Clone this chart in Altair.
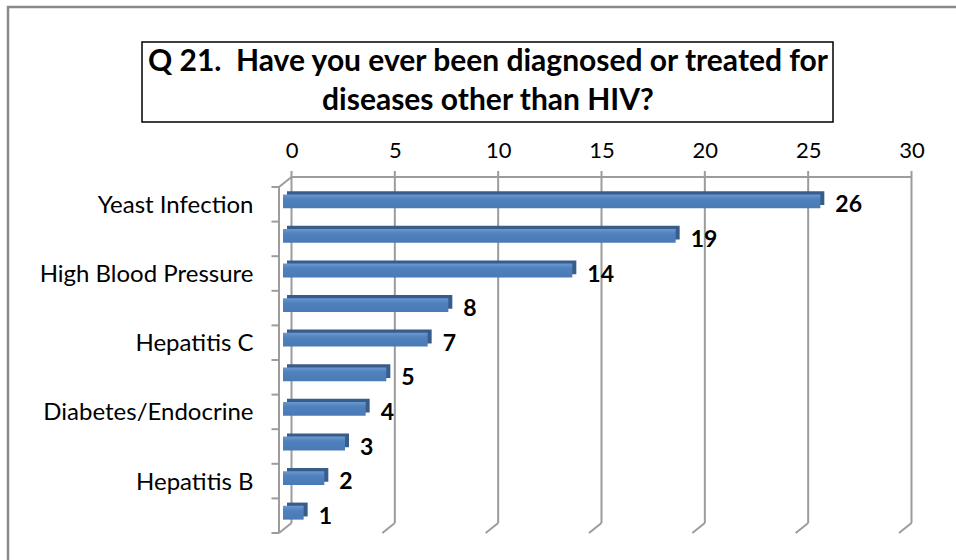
import json
import altair as alt
import pandas as pd

# Survey responses: count of people per condition (every other category is labelled)
categories = ["Yeast Infection", "", "High Blood Pressure", "", "Hepatitis C", "",
              "Diabetes/Endocrine", "", "Hepatitis B", ""]
counts = [26, 19, 14, 8, 7, 5, 4, 3, 2, 1]
tick_values = [0, 5, 10, 15, 20, 25, 30]
title_lines = ["Q 21.\u00a0 Have you ever been diagnosed or treated for",
               "diseases other than HIV?"]

N = len(counts)
X_MAX = tick_values[-1]

bars = pd.DataFrame({
    "idx": list(range(N)),
    "count": counts,
    "label": categories,
})
bars["zero"] = 0
bars["lo"] = bars["idx"] + 0.3
bars["hi"] = bars["idx"] + 0.7
bars["mid"] = bars["idx"] + 0.5

grid = pd.DataFrame({"v": tick_values})
grid["top"] = 0
grid["bottom"] = N
bounds = pd.DataFrame({"k": list(range(N + 1))})
bounds["zero"] = 0
walls = pd.DataFrame({"zero": [0], "xmax": [X_MAX], "top": [0], "bottom": [N]})
one = pd.DataFrame({"a": [0]})

# plot-area geometry
W, H = 620, 346
LEFT, TOP = 283, 187
DX, DY = 8.5, -10   # offset of the back wall from the bar plane
FX = -4             # front edge of the side wall

FONT = "Lato"
GRID = "#9c9c9c"

XS = alt.Scale(domain=[0, X_MAX], nice=False, zero=False)
YS = alt.Scale(domain=[0, N], reverse=True, nice=False, zero=False)

XAXIS = alt.Axis(orient="top", values=tick_values, labelOffset=DX, domain=False,
                 ticks=False, grid=False, labelPadding=25, labelFontSize=22,
                 labelFlush=False, labelOverlap=False,
                 labelFont=FONT, labelColor="black", title=None, zindex=2)
label_values = [i + 0.5 for i, c in enumerate(categories) if c]
YAXIS = alt.Axis(orient="left", values=label_values, domain=False, ticks=False,
                 grid=False, labelPadding=30, labelFontSize=24, labelFont=FONT,
                 labelFlush=False, labelOverlap=False, labelOffset=1, labelLimit=400,
                 labelColor="black", title=None, zindex=2,
                 labelExpr=json.dumps(categories) + "[floor(datum.value)]")


def X(field):
    return alt.X(field, type="quantitative", scale=XS, axis=XAXIS)


def Y(field):
    return alt.Y(field, type="quantitative", scale=YS, axis=YAXIS)


# outer chart frame
frame = alt.Chart(one).mark_rect(fill="transparent", stroke="#8a8a8a", strokeWidth=2.5).encode(
    x=alt.value(8 - LEFT), x2=alt.value(1000), y=alt.value(7 - TOP), y2=alt.value(600)
)

# boxed title
title_box = alt.Chart(one).mark_rect(fill="transparent", stroke="black", strokeWidth=1.5).encode(
    x=alt.value(142 - LEFT), x2=alt.value(833 - LEFT),
    y=alt.value(42 - TOP), y2=alt.value(122 - TOP)
)
title_text = [
    alt.Chart(one).mark_text(text=line, font=FONT, fontSize=30, fontWeight="bold",
                             color="black", align="center", baseline="middle").encode(
        x=alt.value(488 - LEFT), y=alt.value(yy - TOP))
    for line, yy in zip(title_lines, [62, 101])
]

# back wall gridlines (with a short stub above the wall)
gridlines = alt.Chart(grid).mark_rule(color=GRID, strokeWidth=2, xOffset=DX,
                                      yOffset=DY - 6, y2Offset=DY).encode(
    x=X("v"), y=Y("top"), y2=alt.Y2("bottom")
)
back_top = alt.Chart(walls).mark_rule(color=GRID, strokeWidth=2, xOffset=DX, x2Offset=DX,
                                      yOffset=DY).encode(
    x=X("zero"), x2=alt.X2("xmax"), y=Y("top")
)
# floor lines running from the back wall to the front edge
floor = alt.Chart(grid).mark_rule(color=GRID, strokeWidth=2, xOffset=DX, x2Offset=FX,
                                  yOffset=DY, y2Offset=0).encode(
    x=X("v"), x2=alt.X2("v"), y=Y("bottom"), y2=alt.Y2("bottom")
)
top_corner = alt.Chart(walls).mark_rule(color=GRID, strokeWidth=2, xOffset=FX, x2Offset=DX,
                                        yOffset=0, y2Offset=DY).encode(
    x=X("zero"), x2=alt.X2("zero"), y=Y("top"), y2=alt.Y2("top")
)
front_axis = alt.Chart(walls).mark_rule(color=GRID, strokeWidth=2, xOffset=FX).encode(
    x=X("zero"), y=Y("top"), y2=alt.Y2("bottom")
)
front_ticks = alt.Chart(bounds).mark_rule(color=GRID, strokeWidth=2, xOffset=FX - 7.5,
                                          x2Offset=FX).encode(
    x=X("zero"), x2=alt.X2("zero"), y=Y("k")
)

# 3-D bars: a darker box set back for the top/side faces, then the front face
bar_back = alt.Chart(bars).mark_rect(color="#385d8a", xOffset=4, x2Offset=4,
                                     yOffset=-6.2, y2Offset=-6.2).encode(
    x=X("zero"), x2=alt.X2("count"), y=Y("lo"), y2=alt.Y2("hi")
)
bar_front = alt.Chart(bars).mark_rect(
    color=alt.Gradient(gradient="linear", x1=0, x2=0, y1=0, y2=1,
                       stops=[alt.GradientStop(color="#6a98d2", offset=0),
                              alt.GradientStop(color="#4f81bd", offset=0.35),
                              alt.GradientStop(color="#4a7ab5", offset=1)]),
    yOffset=-3, y2Offset=-3
).encode(
    x=X("zero"), x2=alt.X2("count"), y=Y("lo"), y2=alt.Y2("hi")
)
values = alt.Chart(bars).mark_text(font=FONT, fontSize=23, fontWeight="bold", color="black",
                                   align="left", baseline="middle", dx=15, dy=1).encode(
    x=X("count"), y=Y("mid"), text="count:Q"
)

chart = alt.layer(
    frame, title_box, *title_text, gridlines, back_top, floor, top_corner,
    front_axis, front_ticks, bar_back, bar_front, values
).properties(
    width=W, height=H,
    autosize=alt.AutoSizeParams(type="none"),
    padding={"left": LEFT, "top": TOP, "right": 956 - LEFT - W, "bottom": 560 - TOP - H},
    background="white",
).configure_view(stroke=None)

chart.save("out.html", embed_options={"renderer": "svg", "actions": False})
